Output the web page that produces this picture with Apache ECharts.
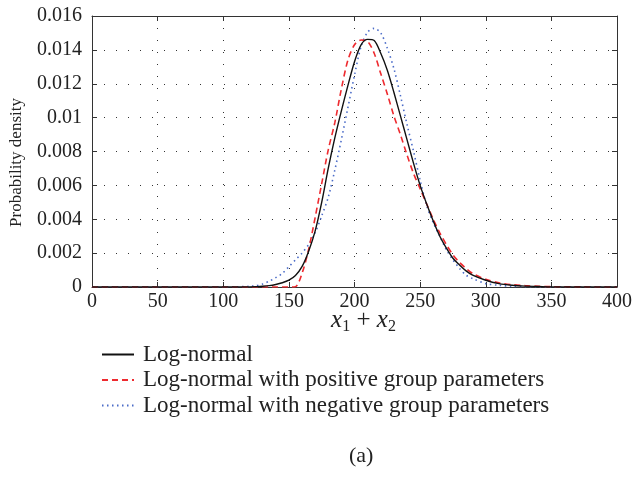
<!DOCTYPE html>
<html>
<head>
<meta charset="utf-8">
<script src="https://cdn.jsdelivr.net/npm/echarts@6/dist/echarts.min.js"></script>
<style>
  html, body { margin: 0; padding: 0; background: #fff; }
  #chart { width: 635px; height: 483px; }
</style>
</head>
<body>
<div id="chart"></div>
<script>
var xValues = [0, 50, 100, 110, 120, 125, 130, 135, 140, 145, 150, 155, 160, 165, 170, 175,
  180, 185, 190, 195, 200, 205, 210, 215, 220, 225, 230, 235, 240, 245, 250, 255, 260, 265,
  270, 275, 280, 285, 290, 300, 310, 320, 330, 340, 350, 375, 400];

// Log-normal
var logNormal = [0, 0, 0, 0, 0.00001, 0.00002, 0.00004, 0.00008, 0.00015, 0.00025, 0.0004, 0.00068,
  0.0012, 0.0021, 0.0033, 0.0050, 0.0070, 0.0088, 0.0104, 0.0119, 0.0133, 0.0143, 0.01462, 0.01455,
  0.0138, 0.0128, 0.0115, 0.0101, 0.0087, 0.0073, 0.0060, 0.0049, 0.0039, 0.0030, 0.0023, 0.0017,
  0.0013, 0.00095, 0.0007, 0.0004, 0.0002, 0.0001, 0.00005, 0.00003, 0.00001, 0, 0];

// Log-normal with positive group parameters
var positiveGroup = [0, 0, 0, 0, 0, 0, 0, 0, 0, 0, 0, 0.00002,
  0.0008, 0.0022, 0.0041, 0.0061, 0.0081, 0.0097, 0.0117, 0.0134, 0.0143, 0.01458, 0.0145, 0.0138,
  0.0126, 0.0114, 0.0101, 0.0090, 0.0078, 0.0067, 0.0058, 0.0049, 0.0040, 0.0032, 0.0025, 0.0019,
  0.00145, 0.0011, 0.0008, 0.00045, 0.00025, 0.00014, 0.00008, 0.00004, 0.00002, 0.000005, 0];

// Log-normal with negative group parameters
var negativeGroup = [0, 0, 0.000002, 0.00001, 0.00004, 0.00008, 0.00018, 0.00034, 0.00055, 0.0008, 0.0012, 0.0016,
  0.0020, 0.0025, 0.0032, 0.0042, 0.0053, 0.0069, 0.0087, 0.0106, 0.0125, 0.0142, 0.01505, 0.01527,
  0.0150, 0.0141, 0.0129, 0.0113, 0.0096, 0.0080, 0.0063, 0.0048, 0.0038, 0.0030, 0.0022, 0.0016,
  0.0011, 0.0007, 0.0005, 0.0002, 0.0001, 0.00004, 0.00002, 0.00001, 0, 0, 0];

var seriesNames = ['Log-normal', 'Log-normal with positive group parameters', 'Log-normal with negative group parameters'];

var FONT = 'Liberation Serif';

function pairs(ys) {
  var out = [];
  for (var i = 0; i < xValues.length; i++) {
    out.push([xValues[i], ys[i]]);
  }
  return out;
}

var myChart = echarts.init(document.getElementById('chart'), null, { renderer: 'canvas' });

var gridDots = { show: true, lineStyle: { color: '#333', width: 1, type: [1, 11] } };
var boxLine = { show: true, onZero: false, lineStyle: { color: '#333', width: 1 } };
var inTicks = { show: true, inside: true, length: 5, lineStyle: { color: '#333' } };

function curve(name, ys, color, width, type, z) {
  return {
    name: name,
    type: 'line',
    xAxisIndex: 0,
    yAxisIndex: 0,
    showSymbol: false,
    symbol: 'none',
    smooth: 0.3,
    z: z,
    lineStyle: { color: color, width: width, type: type },
    itemStyle: { color: color },
    data: pairs(ys)
  };
}

var option = {
  animation: false,
  backgroundColor: '#fff',
  textStyle: { fontFamily: FONT },
  grid: { left: 92, right: 13, top: 16, bottom: 196 },
  legend: {
    orient: 'vertical',
    left: 96,
    top: 338,
    itemWidth: 32,
    itemHeight: 14,
    itemGap: 2.5,
    data: seriesNames,
    itemStyle: { opacity: 0 },
    textStyle: { fontFamily: FONT, fontSize: 23, color: '#222', padding: [0, 0, 0, 4] }
  },
  xAxis: [{
    type: 'value',
    min: 0,
    max: 400,
    interval: 50,
    name: '{v|x}{s|1}{o| + }{v|x}{s|2}',
    nameLocation: 'middle',
    nameGap: 19,
    nameMoveOverlap: false,
    nameTextStyle: {
      fontFamily: FONT,
      fontSize: 25,
      color: '#222',
      padding: [0, 0, 0, 18],
      rich: {
        v: { fontFamily: FONT, fontSize: 25, fontStyle: 'italic', color: '#222' },
        s: { fontFamily: FONT, fontSize: 16, color: '#222', padding: [13, 0, 0, 0] },
        o: { fontFamily: FONT, fontSize: 25, color: '#222' }
      }
    },
    axisLine: boxLine,
    axisTick: inTicks,
    axisLabel: { fontFamily: FONT, fontSize: 20, color: '#222', margin: 5 },
    splitLine: gridDots
  }, {
    type: 'value',
    position: 'top',
    min: 0,
    max: 400,
    interval: 50,
    axisLine: boxLine,
    axisTick: inTicks,
    axisLabel: { show: false },
    splitLine: { show: false }
  }],
  yAxis: [{
    type: 'value',
    min: 0,
    max: 0.016,
    interval: 0.002,
    name: 'Probability density',
    nameLocation: 'middle',
    nameGap: 67,
    nameTextStyle: { fontFamily: FONT, fontSize: 17, color: '#222', padding: [0, 22, 0, 0] },
    axisLine: boxLine,
    axisTick: inTicks,
    axisLabel: {
      fontFamily: FONT,
      fontSize: 20,
      color: '#222',
      margin: 10,
      formatter: function (v) { return String(parseFloat(v.toFixed(3))); }
    },
    splitLine: gridDots
  }, {
    type: 'value',
    position: 'right',
    min: 0,
    max: 0.016,
    interval: 0.002,
    axisLine: boxLine,
    axisTick: inTicks,
    axisLabel: { show: false },
    splitLine: { show: false }
  }],
  series: [
    curve(seriesNames[0], logNormal, '#111', 1.4, 'solid', 3),
    curve(seriesNames[1], positiveGroup, '#ee2a2f', 1.6, [6, 4], 2),
    curve(seriesNames[2], negativeGroup, '#4b6cc8', 1.6, [1.5, 3.5], 1)
  ],
  graphic: [{
    type: 'text',
    left: 349,
    top: 445,
    style: { text: '(a)', font: '22px "Liberation Serif"', fill: '#222' }
  }]
};

myChart.setOption(option);
</script>
</body>
</html>
